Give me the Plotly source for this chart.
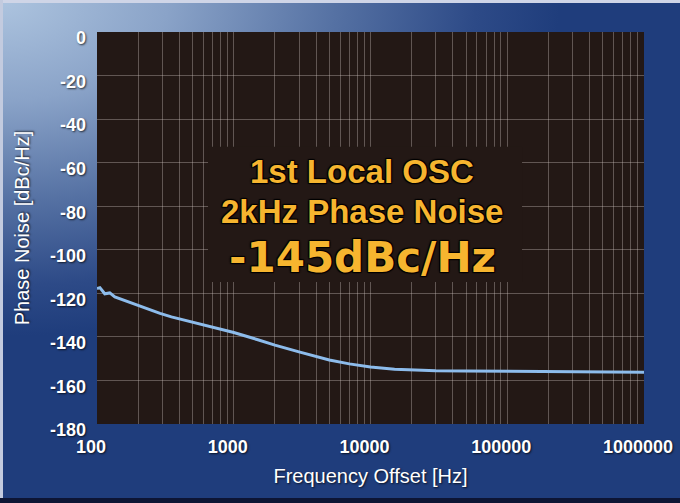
import base64
import plotly.graph_objects as go

# ---------------- data ----------------
freq_hz = [100, 105, 114, 124, 135, 152, 174, 207, 250, 289, 350, 400, 480, 600, 750,
           1000, 1500, 2000, 3000, 4000, 5000, 7000, 10000, 15000, 20000, 30000,
           50000, 100000, 200000, 300000, 500000, 700000, 1000000]
phase_noise_dbc = [-117.8, -117.4, -120.2, -119.8, -121.6, -122.8, -124.0, -126.0, -127.8,
                   -129.2, -130.8, -131.7, -133.0, -134.5, -136.0, -138.0, -141.3, -143.8,
                   -146.9, -149.0, -150.6, -152.4, -153.8, -154.9, -155.3, -155.6, -155.7,
                   -155.8, -155.8, -155.9, -156.0, -156.1, -156.2]

x_tick_vals = [100, 1000, 10000, 100000, 1000000]
x_tick_text = ["100", "1000", "10000", "100000", "1000000"]
y_tick_vals = [0, -20, -40, -60, -80, -100, -120, -140, -160, -180]
y_tick_text = ["0", "-20", "-40", "-60", "-80", "-100", "-120", "-140", "-160", "-180"]

note_lines = ["1st Local OSC", "2kHz Phase Noise", "-145dBc/Hz"]
x_title = "Frequency Offset [Hz]"
y_title = "Phase Noise [dBc/Hz]"

# ---------------- layout geometry / styling ----------------
W, H = 680, 503
ML, MR, MT, MB = 97, 36, 32, 79
PW, PH = W - ML - MR, H - MT - MB

svg = f'''<svg xmlns="http://www.w3.org/2000/svg" width="{W}" height="{H}" viewBox="0 0 {W} {H}">
<defs>
<radialGradient id="g" gradientUnits="userSpaceOnUse" cx="0" cy="0" r="560" gradientTransform="scale(1,0.6)">
<stop offset="0" stop-color="#adc4df"/>
<stop offset="0.3" stop-color="#8aa3c8"/>
<stop offset="0.6" stop-color="#5571a3"/>
<stop offset="0.85" stop-color="#2d4a87"/>
<stop offset="1" stop-color="#1f3d7c"/>
</radialGradient>
</defs>
<rect width="{W}" height="{H}" fill="#1f3d7c"/>
<rect width="{W}" height="{H}" fill="url(#g)"/>
<rect width="{W}" height="3" fill="#cfd5e7"/>
<rect width="3" height="{H}" fill="#c3cbdf"/>
<rect y="{H-5}" width="{W}" height="5" fill="#0d1534"/>
</svg>'''
bg_src = "data:image/svg+xml;base64," + base64.b64encode(svg.encode()).decode()

GRID = "rgba(200,190,185,0.38)"
PLOT_BG = "#231815"
NOTE_COLOR = "#f6b52f"
TXT_SHADOW = "1px 1px 2px rgba(0,0,0,0.7)"

minor_grid = [m * 10 ** e for e in range(2, 6) for m in range(2, 10)]

fig = go.Figure()
fig.add_trace(go.Scatter(
    x=freq_hz, y=phase_noise_dbc, mode="lines",
    line=dict(color="#8dbcec", width=3),
    hoverinfo="skip", showlegend=False,
))

fig.update_layout(
    width=W, height=H,
    margin=dict(l=ML, r=MR, t=MT, b=MB, pad=0),
    paper_bgcolor="#1f3d7c",
    plot_bgcolor="rgba(0,0,0,0)",
    showlegend=False,
    images=[dict(source=bg_src, xref="paper", yref="paper",
                 x=-ML / PW, y=1 + MT / PH, sizex=W / PW, sizey=H / PH,
                 xanchor="left", yanchor="top", sizing="stretch", layer="below")],
    shapes=[
        dict(type="rect", xref="x domain", yref="y domain", x0=0, x1=1, y0=0, y1=1,
             fillcolor=PLOT_BG, line=dict(width=0), layer="below"),
        dict(type="rect", xref="x domain", yref="y domain", x0=0.203, x1=0.777,
             y0=0.362, y1=0.707, fillcolor=PLOT_BG, line=dict(width=0), layer="above"),
    ],
)

fig.update_xaxes(
    type="log", range=[2, 6],
    tickmode="array", tickvals=x_tick_vals, ticktext=x_tick_text,
    showgrid=True, gridcolor=GRID, gridwidth=1,
    minor=dict(tickmode="array", tickvals=minor_grid, showgrid=True,
               gridcolor=GRID, gridwidth=1, ticks=""),
    ticks="", showline=False, zeroline=False,
    tickfont=dict(family="Liberation Sans, Arial", size=18, color="white",
                  weight="bold", shadow=TXT_SHADOW),
    ticklabelstandoff=10, ticklabelshift=-6,
    title=dict(text=x_title, standoff=12,
               font=dict(family="Liberation Sans, Arial", size=20, color="white",
                         shadow=TXT_SHADOW)),
    automargin=False, fixedrange=True,
)
fig.update_yaxes(
    range=[-180, 0],
    tickmode="array", tickvals=y_tick_vals, ticktext=y_tick_text,
    showgrid=True, gridcolor=GRID, gridwidth=1,
    ticks="", showline=False, zeroline=False,
    tickfont=dict(family="Liberation Sans, Arial", size=18, color="white",
                  weight="bold", shadow=TXT_SHADOW),
    ticklabelstandoff=10, ticklabelshift=6,
    title=dict(text=y_title, standoff=14,
               font=dict(family="Liberation Sans, Arial", size=20, color="white",
                         shadow=TXT_SHADOW)),
    automargin=False, fixedrange=True,
)

note_y = [0.643, 0.541, 0.426]
note_sizes = [33, 33, 42]
note_fonts = ["Liberation Sans, Arial", "Liberation Sans, Arial", "DejaVu Sans"]
for txt, yy, sz, fam in zip(note_lines, note_y, note_sizes, note_fonts):
    fig.add_annotation(
        text=txt, xref="x domain", yref="y domain", x=0.485, y=yy,
        xanchor="center", yanchor="middle", showarrow=False,
        font=dict(family=fam, size=sz, color=NOTE_COLOR, weight="bold",
                  shadow="1px 1px 1px #000, -1px -1px 1px #000, 1px -1px 1px #000, -1px 1px 1px #000"),
    )

fig.write_html("out.html",
               config={"displayModeBar": False, "staticPlot": True},
               post_script="document.body.style.margin='0';document.body.style.overflow='hidden';")
